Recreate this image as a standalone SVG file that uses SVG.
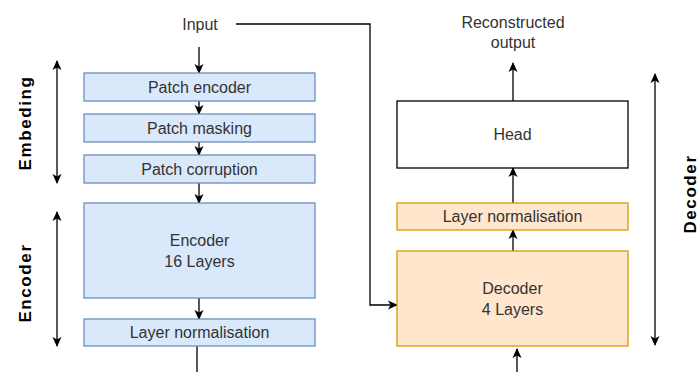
<svg xmlns="http://www.w3.org/2000/svg" width="700" height="372" viewBox="0 0 700 372">
<defs>
<marker id="ah" viewBox="0 0 10 10" refX="9" refY="5" markerWidth="10" markerHeight="10" markerUnits="userSpaceOnUse" orient="auto-start-reverse">
<path d="M0,0.5 L10,5 L0,9.5 L2.5,5 Z" fill="#000"/>
</marker>
<style>
.blue{fill:#dae8fc;stroke:#6c8ebf;stroke-width:1.3}
.orange{fill:#ffe6cc;stroke:#d79b00;stroke-width:1.3}
.white{fill:#fff;stroke:#000;stroke-width:1.3}
.t{font-family:"Liberation Sans",Arial,sans-serif;font-size:16px;fill:#333;text-anchor:middle}
.side{font-family:"Liberation Sans",Arial,sans-serif;font-size:17px;font-weight:bold;fill:#000;text-anchor:middle;letter-spacing:1.6px}
.c{fill:none;stroke:#000;stroke-width:1.3}
</style>
</defs>
<rect width="700" height="372" fill="#fff"/>
<g id="connectors">
<path class="c" d="M199,47 V73" marker-end="url(#ah)"/>
<path class="c" d="M199,101 V114" marker-end="url(#ah)"/>
<path class="c" d="M199,142 V155" marker-end="url(#ah)"/>
<path class="c" d="M199,183 V203" marker-end="url(#ah)"/>
<path class="c" d="M199,298 V319" marker-end="url(#ah)"/>
<path class="c" d="M197,346 V372"/>
<path class="c" d="M236,24 H370 V305 H397" marker-end="url(#ah)"/>
<path class="c" d="M517,372 V349" marker-end="url(#ah)"/>
<path class="c" d="M513,251 V230" marker-end="url(#ah)"/>
<path class="c" d="M513,203 V168" marker-end="url(#ah)"/>
<path class="c" d="M513,101 V63" marker-end="url(#ah)"/>
<path class="c" d="M57,61 V183" marker-start="url(#ah)" marker-end="url(#ah)"/>
<path class="c" d="M57,212 V346" marker-start="url(#ah)" marker-end="url(#ah)"/>
<path class="c" d="M655,74 V345" marker-start="url(#ah)" marker-end="url(#ah)"/>
</g>
<g id="input"><text class="t" x="200" y="30">Input</text></g>
<g id="output"><text class="t" x="513" y="28">Reconstructed</text><text class="t" x="513" y="48">output</text></g>
<g id="patch-encoder"><rect class="blue" x="84" y="73" width="231" height="28"/><text class="t" x="199.5" y="92.5">Patch encoder</text></g>
<g id="patch-masking"><rect class="blue" x="84" y="114" width="231" height="28"/><text class="t" x="199.5" y="133.5">Patch masking</text></g>
<g id="patch-corruption"><rect class="blue" x="84" y="155" width="231" height="28"/><text class="t" x="199.5" y="174.5">Patch corruption</text></g>
<g id="encoder"><rect class="blue" x="84" y="203" width="231" height="95"/><text class="t" x="199.5" y="245.5">Encoder</text><text class="t" x="199.5" y="266.5">16 Layers</text></g>
<g id="enc-norm"><rect class="blue" x="84" y="319" width="231" height="27"/><text class="t" x="199.5" y="337.5">Layer normalisation</text></g>
<g id="head"><rect class="white" x="397" y="101" width="231" height="67"/><text class="t" x="512.5" y="140">Head</text></g>
<g id="dec-norm"><rect class="orange" x="397" y="203" width="231" height="27"/><text class="t" x="512.5" y="222">Layer normalisation</text></g>
<g id="decoder"><rect class="orange" x="397" y="251" width="231" height="95"/><text class="t" x="512.5" y="294">Decoder</text><text class="t" x="512.5" y="314.5">4 Layers</text></g>
<g id="label-embeding"><text class="side" transform="translate(31,123) rotate(-90)">Embeding</text></g>
<g id="label-encoder"><text class="side" transform="translate(31,283) rotate(-90)">Encoder</text></g>
<g id="label-decoder"><text class="side" transform="translate(696,194) rotate(-90)">Decoder</text></g>
</svg>
